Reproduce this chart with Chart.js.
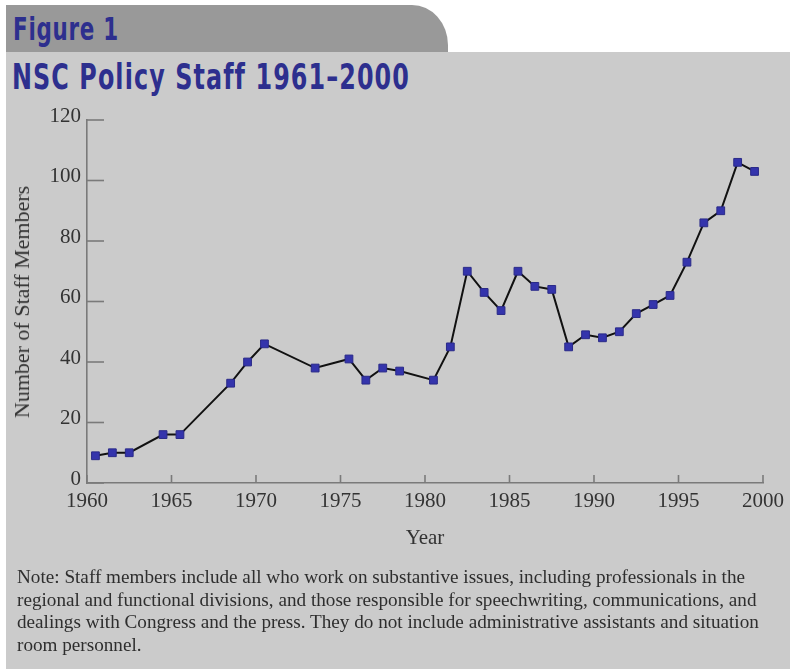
<!DOCTYPE html>
<html>
<head>
<meta charset="utf-8">
<script src="https://cdn.jsdelivr.net/npm/chart.js@4.4.1/dist/chart.umd.min.js"></script>
<style>
  html, body { margin: 0; padding: 0; background: #ffffff; }
  #page { position: relative; width: 790px; height: 669px; overflow: hidden; background: #ffffff; }
  #tab { position: absolute; left: 6px; top: 5px; width: 442px; height: 47px; background: #999999;
         border-top-right-radius: 36px 40px; }
  #tabText { position: absolute; left: 7px; top: 4px; font-family: "Liberation Sans Narrow", "DejaVu Sans Condensed", sans-serif;
             font-weight: bold; font-size: 32px; color: #2d2f8e; line-height: 40px; white-space: nowrap; transform-origin: 0 0;
             letter-spacing: 1px; }
  #panel { position: absolute; left: 6px; top: 52px; right: 0; bottom: 0; background: #cbcbcb; }
  #title { position: absolute; left: 12px; top: 55px; font-family: "Liberation Sans Narrow", "DejaVu Sans Condensed", sans-serif;
           font-weight: bold; font-size: 36px; color: #2d2f8e; line-height: 44px; white-space: nowrap; transform-origin: 0 0;
           letter-spacing: 1.5px; }
  #ytitle { position: absolute; left: 22px; top: 302px; transform: translate(-50%, -50%) rotate(-90deg);
            font-family: "Liberation Serif", serif; font-size: 22px; color: #333333; white-space: nowrap; }
  #note { position: absolute; left: 17px; top: 566px; font-family: "Liberation Serif", serif; font-size: 18px;
          line-height: 22.7px; color: #2e2e2e; white-space: nowrap; transform-origin: 0 0; }
  #note span { display: block; }
  canvas { position: absolute; left: 0; top: 0; }
</style>
</head>
<body>
<div id="page">
  <div id="tab"><div id="tabText">Figure 1</div></div>
  <div id="panel"></div>
  <div id="title">NSC Policy Staff 1961–2000</div>
  <canvas id="chart" width="790" height="669"></canvas>
  <div id="ytitle">Number of Staff Members</div>
  <div id="note"><span id="noteLine1">Note: Staff members include all who work on substantive issues, including professionals in the</span><span>regional and functional divisions, and those responsible for speechwriting, communications, and</span><span>dealings with Congress and the press. They do not include administrative assistants and situation</span><span>room personnel.</span></div>
</div>
<script>
// Data
const years = [1960.5, 1961.5, 1962.5, 1964.5, 1965.5, 1968.5, 1969.5, 1970.5, 1973.5, 1975.5,
               1976.5, 1977.5, 1978.5, 1980.5, 1981.5, 1982.5, 1983.5, 1984.5, 1985.5, 1986.5,
               1987.5, 1988.5, 1989.5, 1990.5, 1991.5, 1992.5, 1993.5, 1994.5, 1995.5, 1996.5,
               1997.5, 1998.5, 1999.5];
const staff = [9, 10, 10, 16, 16, 33, 40, 46, 38, 41,
               34, 38, 37, 34, 45, 70, 63, 57, 70, 65,
               64, 45, 49, 48, 50, 56, 59, 62, 73, 86,
               90, 106, 103];
const xTickLabels = ['1960', '1965', '1970', '1975', '1980', '1985', '1990', '1995', '2000'];
const yTickLabels = ['0', '20', '40', '60', '80', '100', '120'];

// Fit header texts to the widths seen in the reference
function fitWidth(el, target) {
  const r = document.createRange();
  r.selectNodeContents(el);
  const w = r.getBoundingClientRect().width;
  if (w > 0) el.style.transform = 'scaleX(' + (target / w) + ')';
}
fitWidth(document.getElementById('tabText'), 106);
fitWidth(document.getElementById('title'), 398);
(function () {
  const l1 = document.getElementById('noteLine1');
  const r = document.createRange();
  r.selectNodeContents(l1);
  const w = r.getBoundingClientRect().width;
  if (w > 0) document.getElementById('note').style.transform = 'scaleX(' + (728 / w) + ')';
})();

const points = years.map((y, i) => ({ x: y, y: staff[i] }));

const innerTicks = {
  id: 'innerTicks',
  beforeDatasetsDraw(chart) {
    const { ctx, chartArea, scales } = chart;
    ctx.save();
    ctx.strokeStyle = '#7a7a7a';
    ctx.lineWidth = 1.6;
    const ys = scales.y;
    ys.ticks.forEach((t, i) => {
      const py = ys.getPixelForTick(i);
      ctx.beginPath();
      ctx.moveTo(chartArea.left, py);
      ctx.lineTo(chartArea.left + 17, py);
      ctx.stroke();
    });
    const xs = scales.x;
    xs.ticks.forEach((t, i) => {
      const px = xs.getPixelForTick(i);
      ctx.beginPath();
      ctx.moveTo(px, chartArea.bottom);
      ctx.lineTo(px, chartArea.bottom - 8);
      ctx.stroke();
    });
    ctx.restore();
  }
};

new Chart(document.getElementById('chart'), {
  type: 'line',
  data: {
    datasets: [{
      data: points,
      borderColor: '#111111',
      borderWidth: 2,
      tension: 0,
      pointStyle: 'rect',
      pointRadius: 5.5,
      pointBackgroundColor: '#3434ac',
      pointBorderColor: '#2a2a88',
      pointBorderWidth: 1
    }]
  },
  options: {
    responsive: false,
    devicePixelRatio: 1,
    animation: false,
    layout: { padding: { left: 0, top: 120, right: 24, bottom: 116 } },
    plugins: { legend: { display: false }, tooltip: { enabled: false } },
    scales: {
      x: {
        type: 'linear',
        min: 1960, max: 2000,
        grid: { display: false, drawTicks: false },
        border: { display: true, color: '#7a7a7a', width: 1.6 },
        ticks: {
          stepSize: 5,
          padding: 6,
          color: '#333333',
          font: { family: 'Liberation Serif', size: 21 },
          callback: (v) => xTickLabels[xTickLabels.indexOf(String(v))]
        },
        title: {
          display: true, text: 'Year', color: '#333333',
          font: { family: 'Liberation Serif', size: 21 },
          padding: { top: 0, bottom: 2 }
        },
        afterFit: (s) => { s.height = 70; }
      },
      y: {
        min: 0, max: 120,
        grid: { display: false, drawTicks: false },
        border: { display: true, color: '#7a7a7a', width: 1.6 },
        ticks: {
          stepSize: 20,
          padding: 6,
          labelOffset: -4,
          color: '#333333',
          font: { family: 'Liberation Serif', size: 21 },
          callback: (v) => yTickLabels[yTickLabels.indexOf(String(v))]
        },
        afterFit: (s) => { s.width = 87; }
      }
    }
  },
  plugins: [innerTicks]
});
</script>
</body>
</html>
